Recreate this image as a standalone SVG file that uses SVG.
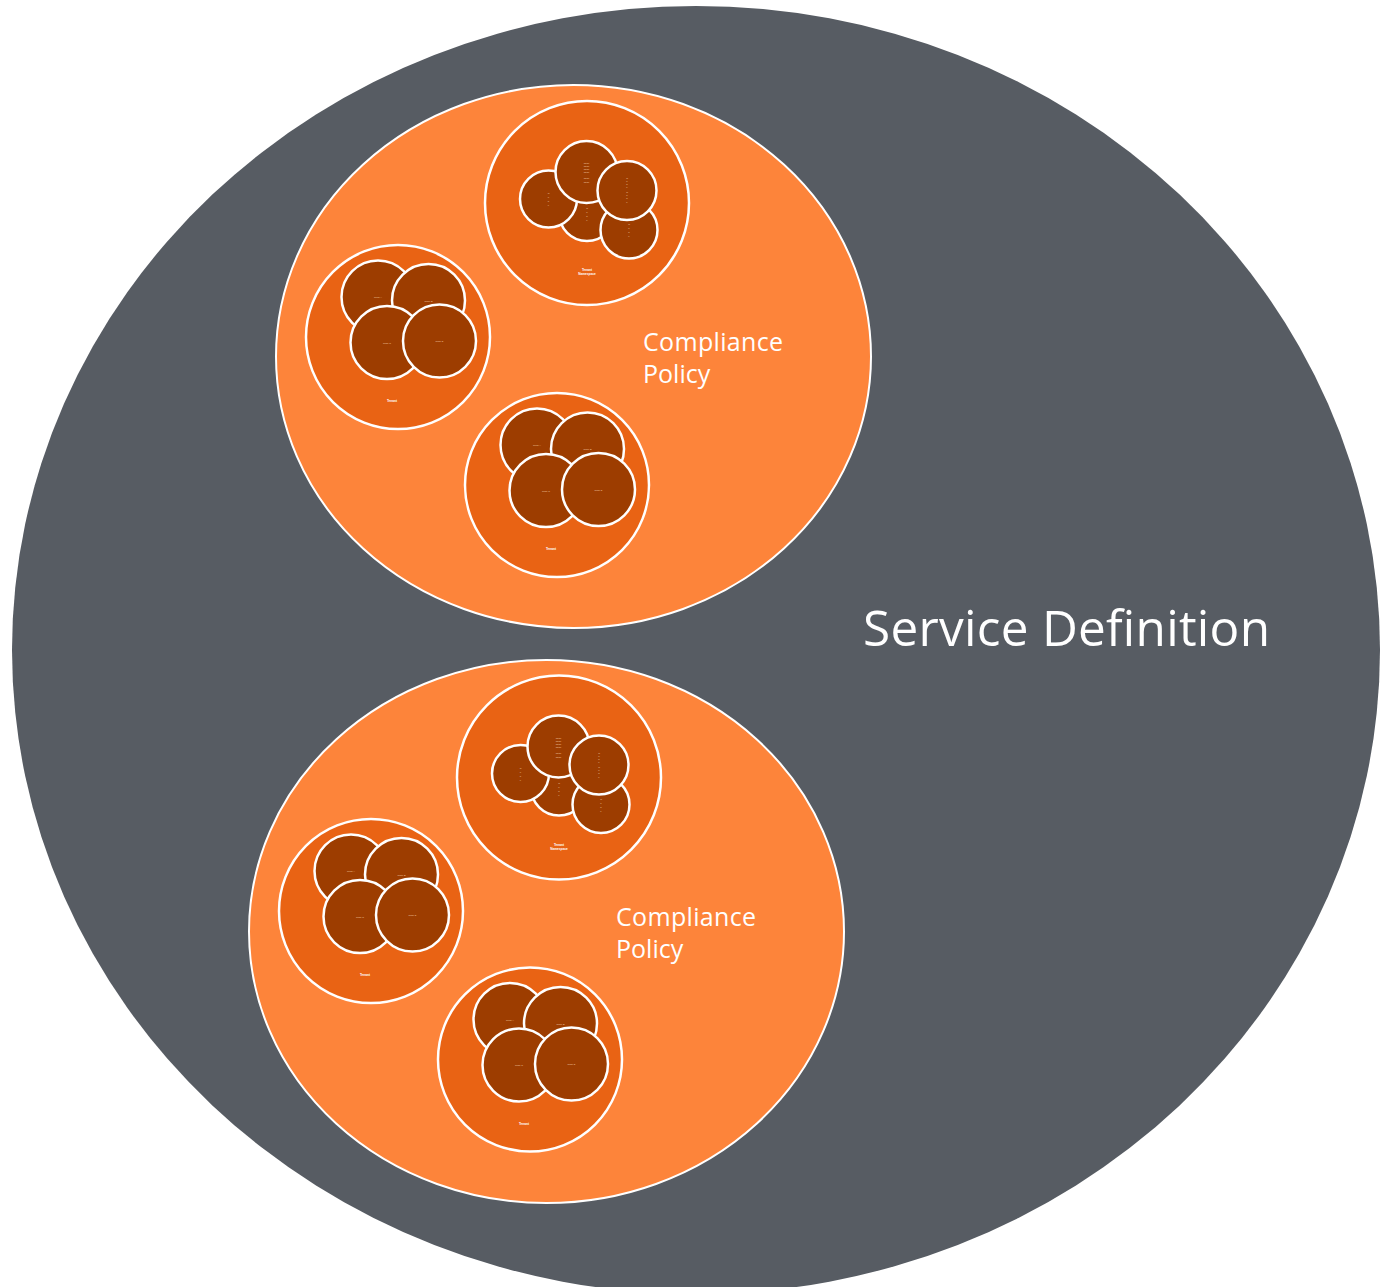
<svg xmlns="http://www.w3.org/2000/svg" width="1393" height="1287" viewBox="0 0 1393 1287">
<style>
.bg{fill:#ffffff}
.svc{fill:#575c63}
.pol{fill:#fd843a;stroke:#ffffff;stroke-width:2}
.ten{fill:#e96314;stroke:#ffffff;stroke-width:2.5}
.node{fill:#9d3d00;stroke:#ffffff;stroke-width:2.5}
.big{font-family:"Open Sans","DejaVu Sans",sans-serif;fill:#ffffff}
.nl{font-family:"Liberation Sans",sans-serif;font-size:2.4px;fill:#f3c9a6;text-anchor:middle}
.tl{font-family:"Liberation Sans",sans-serif;font-size:3.2px;font-weight:bold;fill:#ffffff;text-anchor:middle}
</style>
<rect class="bg" x="0" y="0" width="1393" height="1287"/>
<g id="service-definition">
<ellipse class="svc" cx="696" cy="650" rx="684" ry="644"/>
<text class="big" x="863" y="646" font-size="49.5" textLength="407" lengthAdjust="spacing">Service Definition</text>
</g>

<g id="policy-1">
<ellipse class="pol" cx="573.5" cy="356.5" rx="297.5" ry="271.5"/>
<text class="big" x="643" y="351" font-size="25" textLength="140" lengthAdjust="spacing">Compliance</text>
<text class="big" x="643" y="383" font-size="25">Policy</text>
</g>

<g id="tenant-1a">
<circle class="ten" cx="587" cy="203" r="102"/>
<circle class="node" cx="587" cy="213" r="28"/>
<circle class="node" cx="548.5" cy="199" r="28.5"/>
<circle class="node" cx="586.5" cy="172" r="31"/>
<circle class="node" cx="629" cy="230" r="28.5"/>
<circle class="node" cx="627" cy="190.5" r="29.5"/>
<text class="nl" x="548.5" y="194">N</text><text class="nl" x="548.5" y="198">o</text><text class="nl" x="548.5" y="202">d</text><text class="nl" x="548.5" y="206">e</text>
<text class="nl" x="587" y="209">N</text><text class="nl" x="587" y="213">o</text><text class="nl" x="587" y="217">d</text><text class="nl" x="587" y="221">e</text>
<text class="nl" x="586.5" y="164">Node</text><text class="nl" x="586.5" y="167">Node</text><text class="nl" x="586.5" y="170">Node</text><text class="nl" x="586.5" y="173">Node</text><text class="nl" x="586.5" y="179">Node</text><text class="nl" x="586.5" y="183">Node</text>
<text class="nl" x="627" y="179">N</text><text class="nl" x="627" y="182">o</text><text class="nl" x="627" y="185">d</text><text class="nl" x="627" y="188">e</text><text class="nl" x="627" y="193">N</text><text class="nl" x="627" y="196">o</text><text class="nl" x="627" y="199">d</text><text class="nl" x="627" y="203">e</text>
<text class="nl" x="629" y="225">N</text><text class="nl" x="629" y="229">o</text><text class="nl" x="629" y="233">d</text><text class="nl" x="629" y="237">e</text>
<text class="tl" x="587" y="271">Tenant</text>
<text class="tl" x="587" y="275">Namespace</text>
</g>

<g id="tenant-1b">
<circle class="ten" cx="398" cy="337" r="92"/>
<circle class="node" cx="378" cy="297" r="36.5"/>
<circle class="node" cx="428.5" cy="300.5" r="36.5"/>
<circle class="node" cx="387" cy="342.5" r="36.5"/>
<circle class="node" cx="439.5" cy="341" r="36.5"/>
<text class="nl" x="378" y="298">Node A</text>
<text class="nl" x="428.5" y="301.5">Node B</text>
<text class="nl" x="387" y="343.5">Node C</text>
<text class="nl" x="439.5" y="342">Node D</text>
<text class="tl" x="392" y="402">Tenant</text>
</g>

<g id="tenant-1c">
<circle class="ten" cx="557" cy="485" r="92"/>
<circle class="node" cx="537" cy="445" r="36.5"/>
<circle class="node" cx="587.5" cy="449" r="36.5"/>
<circle class="node" cx="546" cy="490.5" r="36.5"/>
<circle class="node" cx="598.5" cy="489.5" r="36.5"/>
<text class="nl" x="537" y="446">Node A</text>
<text class="nl" x="587.5" y="450">Node B</text>
<text class="nl" x="546" y="491.5">Node C</text>
<text class="nl" x="598.5" y="490.5">Node D</text>
<text class="tl" x="551" y="550">Tenant</text>
</g>

<g id="policy-2">
<ellipse class="pol" cx="546.5" cy="931.5" rx="297.5" ry="271.5"/>
<text class="big" x="616" y="926" font-size="25" textLength="140" lengthAdjust="spacing">Compliance</text>
<text class="big" x="616" y="958" font-size="25">Policy</text>
</g>

<g id="tenant-2a" transform="translate(-28,574.5)">
<circle class="ten" cx="587" cy="203" r="102"/>
<circle class="node" cx="587" cy="213" r="28"/>
<circle class="node" cx="548.5" cy="199" r="28.5"/>
<circle class="node" cx="586.5" cy="172" r="31"/>
<circle class="node" cx="629" cy="230" r="28.5"/>
<circle class="node" cx="627" cy="190.5" r="29.5"/>
<text class="nl" x="548.5" y="194">N</text><text class="nl" x="548.5" y="198">o</text><text class="nl" x="548.5" y="202">d</text><text class="nl" x="548.5" y="206">e</text>
<text class="nl" x="587" y="209">N</text><text class="nl" x="587" y="213">o</text><text class="nl" x="587" y="217">d</text><text class="nl" x="587" y="221">e</text>
<text class="nl" x="586.5" y="164">Node</text><text class="nl" x="586.5" y="167">Node</text><text class="nl" x="586.5" y="170">Node</text><text class="nl" x="586.5" y="173">Node</text><text class="nl" x="586.5" y="179">Node</text><text class="nl" x="586.5" y="183">Node</text>
<text class="nl" x="627" y="179">N</text><text class="nl" x="627" y="182">o</text><text class="nl" x="627" y="185">d</text><text class="nl" x="627" y="188">e</text><text class="nl" x="627" y="193">N</text><text class="nl" x="627" y="196">o</text><text class="nl" x="627" y="199">d</text><text class="nl" x="627" y="203">e</text>
<text class="nl" x="629" y="225">N</text><text class="nl" x="629" y="229">o</text><text class="nl" x="629" y="233">d</text><text class="nl" x="629" y="237">e</text>
<text class="tl" x="587" y="271">Tenant</text>
<text class="tl" x="587" y="275">Namespace</text>
</g>

<g id="tenant-2b" transform="translate(-27,574)">
<circle class="ten" cx="398" cy="337" r="92"/>
<circle class="node" cx="378" cy="297" r="36.5"/>
<circle class="node" cx="428.5" cy="300.5" r="36.5"/>
<circle class="node" cx="387" cy="342.5" r="36.5"/>
<circle class="node" cx="439.5" cy="341" r="36.5"/>
<text class="nl" x="378" y="298">Node A</text>
<text class="nl" x="428.5" y="301.5">Node B</text>
<text class="nl" x="387" y="343.5">Node C</text>
<text class="nl" x="439.5" y="342">Node D</text>
<text class="tl" x="392" y="402">Tenant</text>
</g>

<g id="tenant-2c" transform="translate(-27,574.5)">
<circle class="ten" cx="557" cy="485" r="92"/>
<circle class="node" cx="537" cy="445" r="36.5"/>
<circle class="node" cx="587.5" cy="449" r="36.5"/>
<circle class="node" cx="546" cy="490.5" r="36.5"/>
<circle class="node" cx="598.5" cy="489.5" r="36.5"/>
<text class="nl" x="537" y="446">Node A</text>
<text class="nl" x="587.5" y="450">Node B</text>
<text class="nl" x="546" y="491.5">Node C</text>
<text class="nl" x="598.5" y="490.5">Node D</text>
<text class="tl" x="551" y="550">Tenant</text>
</g>

<g id="connectors"></g>
</svg>
